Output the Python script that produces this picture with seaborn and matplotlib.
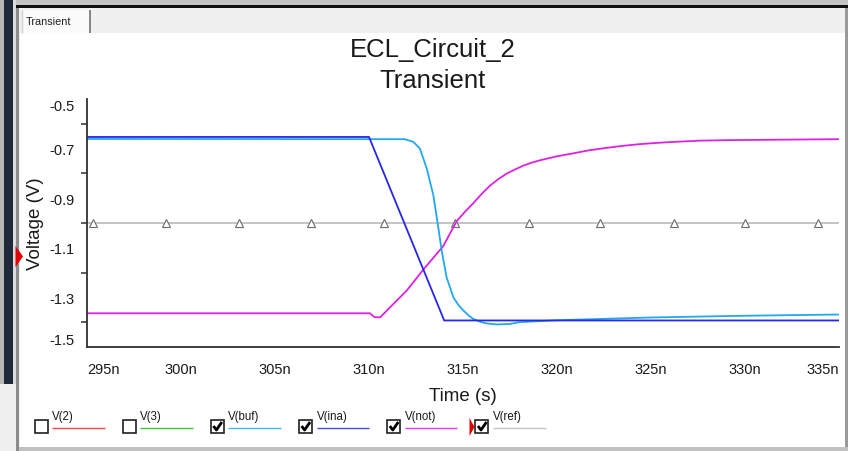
import numpy as np
import pandas as pd
import matplotlib.pyplot as plt
import seaborn as sns
from matplotlib.patches import Rectangle, Polygon
from matplotlib.lines import Line2D

# values (time in ns, voltage in V)
t_ina = [295.0, 310.0, 314.0, 335.0]
v_ina = [-0.653, -0.653, -1.393, -1.393]

t_buf = [295.0, 311.9, 312.36, 312.71, 313.07, 313.42, 313.65, 313.87, 314.13,
         314.49, 314.75, 315.02, 315.3, 315.55, 315.9, 316.26, 316.8, 317.5, 318.0,
         320.0, 325.0, 330.0, 335.0]
v_buf = [-0.661, -0.662, -0.673, -0.70, -0.78, -0.887, -1.0, -1.113, -1.22,
         -1.30, -1.33, -1.353, -1.373, -1.387, -1.398, -1.405, -1.409, -1.407, -1.40,
         -1.392, -1.381, -1.374, -1.369]

t_not = [295.0, 310.05, 310.3, 310.6, 311.12, 312.0, 312.9, 313.95, 314.66, 315.1,
         315.55, 316.0, 316.44, 316.9, 317.32, 317.8, 318.2, 318.6, 319.1, 320.0,
         320.87, 321.7, 322.64, 323.5, 324.4, 325.3, 326.2, 327.6, 329.0, 332.0, 335.0]
v_not = [-1.364, -1.364, -1.38, -1.38, -1.34, -1.273, -1.187, -1.093, -0.993, -0.955,
         -0.92, -0.882, -0.849, -0.822, -0.801, -0.783, -0.769, -0.758, -0.747, -0.731,
         -0.719, -0.707, -0.697, -0.689, -0.682, -0.677, -0.673, -0.668, -0.666, -0.664, -0.662]

t_ref = [295.0, 335.0]
v_ref = [-1.0, -1.0]
t_ref_marks = [295.3, 299.2, 303.1, 306.9, 310.8, 314.6, 318.5, 322.3, 326.2, 330.0, 333.9]

x_ticks = [295, 300, 305, 310, 315, 320, 325, 330, 335]
x_labels = ["295n", "300n", "305n", "310n", "315n", "320n", "325n", "330n", "335n"]
y_ticks = [-1.5, -1.3, -1.1, -0.9, -0.7, -0.5]
y_labels = ["-1.5", "-1.3", "-1.1", "-0.9", "-0.7", "-0.5"]
y_minor = [-1.4, -1.2, -1.0, -0.8, -0.6]

legend_names = ["V(2)", "V(3)", "V(buf)", "V(ina)", "V(not)", "V(ref)"]
legend_colors = ["#f04848", "#40c040", "#40b8f0", "#4848f0", "#e040e8", "#c4c4c4"]
legend_checked = [False, False, True, True, True, True]

c_ina = "#2626ee"
c_buf = "#22a8ec"
c_not = "#dc22e0"
c_ref = "#b4b4b4"

sns.set_style("white")
plt.rcParams['font.family'] = ['Liberation Sans', 'DejaVu Sans']

W, H = 848, 452
fig = plt.figure(figsize=(W / 100, H / 100), dpi=100)
fig.patch.set_facecolor("#f0f0f0")


def box(x0, y0, x1, y1, color, z=-5, **kw):
    fig.patches.append(Rectangle((x0 / W, 1 - y1 / H), (x1 - x0) / W, (y1 - y0) / H,
                                 transform=fig.transFigure, facecolor=color,
                                 edgecolor=kw.pop("ec", "none"), zorder=z, **kw))


def line(xs, ys, color, lw=1.0, z=3):
    fig.lines.append(Line2D([x / W for x in xs], [1 - y / H for y in ys],
                            transform=fig.transFigure, color=color, lw=lw, zorder=z,
                            solid_capstyle="butt"))


def tri(pts, color):
    fig.patches.append(Polygon([(x / W, 1 - y / H) for x, y in pts], closed=True,
                               transform=fig.transFigure, facecolor=color,
                               edgecolor="none", zorder=4))


# window frame
box(0, 0, W, 6, "#c4c4c4")
box(14, 6, W, 9, "#101010")
box(0, 0, 4, 385, "#b8b8b8")
box(4, 0, 13, 385, "#1e2a3a")
box(13, 0, 16, 385, "#dcdcdc")
box(16, 9, 19, 452, "#8c8c8c")
box(19, 9, W, 34, "#f0f0f0")
box(22, 11, 90, 34, "#fbfbfb")
line([89.5, 89.5], [11, 34], "#707070", lw=1.2)
line([22, 22], [11, 34], "#d0d0d0", lw=1)
fig.text(26 / W, 1 - 22 / H, "Transient", fontsize=7.8, va="center", ha="left", color="#202020")
box(20, 34, 845, 448, "#ffffff")
box(845, 9, W, 452, "#9a9a9a")
box(19, 448, W, 452, "#c0c0c0")

# red selection marker on the left
tri([(15.5, 247), (23, 257.5), (15.5, 268)], "#e00000")

# plot area
ax = fig.add_axes([87 / W, 1 - 348 / H, 752 / W, 248 / H])
ax.set_facecolor("white")

sns.lineplot(x=t_ref, y=v_ref, ax=ax, color=c_ref, lw=1.1, estimator=None)
ax.plot(t_ref_marks, [-1.0] * len(t_ref_marks), ls="none", marker="^", ms=5.5,
        mfc="white", mec="#6a6a6a", mew=0.8)
sns.lineplot(x=t_not, y=v_not, ax=ax, color=c_not, lw=1.3, estimator=None)
sns.lineplot(x=t_buf, y=v_buf, ax=ax, color=c_buf, lw=1.3, estimator=None)
sns.lineplot(x=t_ina, y=v_ina, ax=ax, color=c_ina, lw=1.3, estimator=None)

ax.set_xlim(295, 335)
ax.set_ylim(-1.5, -0.5)
ax.set_xticks(x_ticks, x_labels)
ax.set_yticks(y_ticks, y_labels)
ax.set_yticks(y_minor, minor=True)

for s in ["top", "right"]:
    ax.spines[s].set_visible(False)
for s in ["left", "bottom"]:
    ax.spines[s].set_color("#303030")
    ax.spines[s].set_linewidth(1.3)

ax.tick_params(axis="both", which="both", direction="out", colors="#303030",
               labelcolor="#1a1a1a", labelsize=10.5, width=1.1)
ax.tick_params(axis="both", which="major", length=5)
ax.tick_params(axis="y", which="minor", length=4, left=True)
ax.tick_params(axis="x", pad=6)
ax.tick_params(axis="y", pad=4)

xl = ax.get_xticklabels()
xl[0].set_ha("left")
xl[-1].set_ha("right")
yl = ax.get_yticklabels()
yl[0].set_va("bottom")
yl[-1].set_va("top")

ax.set_xlabel("Time (s)", fontsize=13.5, color="#1a1a1a")
ax.set_ylabel("Voltage (V)", fontsize=13.5, color="#1a1a1a")
ax.xaxis.set_label_coords(0.5, -(397 - 348) / 248)
ax.xaxis.label.set_va("center")
ax.yaxis.set_label_coords((36 - 87) / 752, 0.5)
ax.yaxis.label.set_va("center")
ax.yaxis.label.set_ha("center")

# two-line title, centred on the panel
fig.text(433 / W, 1 - 50 / H, "ECL_Circuit_2", fontsize=18.5, ha="center", va="center", color="#1a1a1a")
fig.text(433 / W, 1 - 81 / H, "Transient", fontsize=18.5, ha="center", va="center", color="#1a1a1a")

# checkbox legend along the bottom
for i, (name, col, chk) in enumerate(zip(legend_names, legend_colors, legend_checked)):
    bx = 34.5 + 88.2 * i
    by = 420.5
    box(bx, by, bx + 13, by + 13, "white", z=3, ec="#202020", lw=1.2)
    if chk:
        line([bx + 2.5, bx + 5.5, bx + 11], [by + 6.5, by + 10.5, by + 2.5], "black", lw=2.0, z=5)
    fig.text((bx + 17.5) / W, 1 - 417 / H, name, fontsize=8.3, ha="left", va="center", color="#1a1a1a")
    line([bx + 17.5, bx + 70], [428.5, 428.5], col, lw=1.0)
    if name == "V(ref)":
        tri([(bx - 6, 419), (bx - 1, 428), (bx - 6, 437)], "#e00000")

fig.savefig("out.png", dpi=100, facecolor=fig.get_facecolor())
